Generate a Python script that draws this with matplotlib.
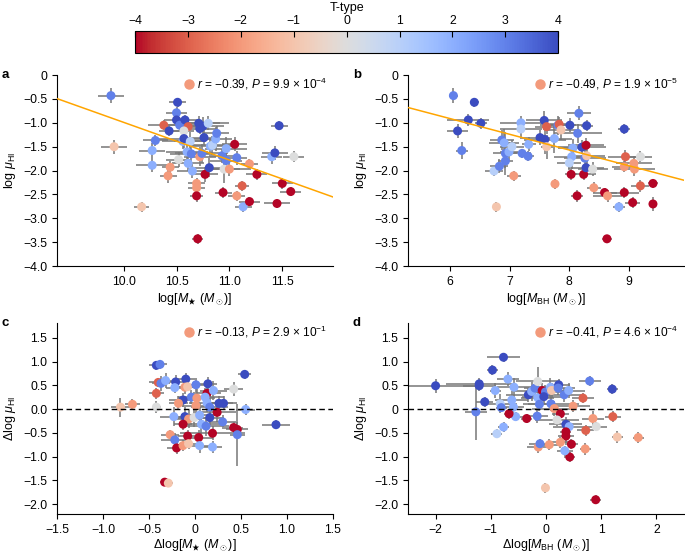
import numpy as np
import matplotlib
matplotlib.use("Agg")
import matplotlib.pyplot as plt
from matplotlib.colors import Normalize

plt.rcParams['font.family'] = ['Liberation Sans', 'DejaVu Sans']
plt.rcParams['mathtext.fontset'] = 'custom'
plt.rcParams['mathtext.rm'] = 'Liberation Sans'
plt.rcParams['mathtext.it'] = 'Liberation Sans:italic'
plt.rcParams['axes.unicode_minus'] = True

# ---- panel a: log M* vs log mu_HI
a_x = [9.88, 9.91, 10.17, 10.27, 10.27, 10.30, 10.38, 10.43, 10.44, 10.42,
       10.51, 10.50, 10.50, 10.53, 10.58, 10.61, 10.57, 10.56, 10.57, 10.63,
       10.60, 10.64, 10.52, 10.61, 10.65, 10.72, 10.69, 10.69, 10.69, 10.70,
       10.71, 10.72, 10.75, 10.80, 10.76, 10.74, 10.77, 10.81, 10.82, 10.84,
       10.87, 10.88, 10.93, 10.94, 10.95, 10.97, 10.97, 11.00, 11.05, 11.07,
       11.07, 11.12, 11.13, 11.19, 11.19, 11.26, 11.40, 11.43, 11.47, 11.45,
       11.50, 11.58, 11.61]
a_y = [-0.43, -1.50, -2.76, -1.89, -1.58, -1.37, -1.05, -1.17, -1.93, -2.11,
       -0.57, -0.79, -0.94, -1.05, -0.94, -1.08, -1.17, -1.39, -1.33, -1.39,
       -1.61, -1.65, -1.77, -1.85, -2.01, -1.71, -2.27, -2.36, -2.53, -3.43,
       -1.01, -1.12, -1.07, -1.01, -1.31, -1.64, -2.08, -1.94, -1.49, -1.47,
       -1.34, -1.22, -1.69, -2.46, -1.97, -1.54, -1.79, -1.97, -1.45, -1.73,
       -2.53, -2.32, -2.76, -1.86, -2.65, -2.08, -1.71, -1.63, -1.06, -2.69,
       -2.27, -2.44, -1.71]
a_xerr = [0.12, 0.12, 0.07, 0.15, 0.12, 0.12, 0.15, 0.10, 0.08, 0.08,
          0.08, 0.10, 0.12, 0.15, 0.12, 0.10, 0.10, 0.20, 0.25, 0.15,
          0.20, 0.20, 0.12, 0.15, 0.15, 0.15, 0.08, 0.08, 0.06, 0.05,
          0.20, 0.15, 0.20, 0.20, 0.15, 0.25, 0.12, 0.15, 0.20, 0.20,
          0.15, 0.12, 0.12, 0.08, 0.15, 0.20, 0.15, 0.20, 0.12, 0.10,
          0.08, 0.07, 0.08, 0.08, 0.10, 0.10, 0.10, 0.12, 0.08, 0.12,
          0.10, 0.10, 0.10]
a_yerr = [0.15, 0.15, 0.10, 0.15, 0.15, 0.12, 0.10, 0.10, 0.12, 0.15,
          0.10, 0.12, 0.10, 0.15, 0.10, 0.12, 0.15, 0.15, 0.20, 0.20,
          0.15, 0.20, 0.15, 0.15, 0.15, 0.20, 0.12, 0.12, 0.12, 0.10,
          0.15, 0.12, 0.20, 0.15, 0.15, 0.20, 0.15, 0.20, 0.15, 0.20,
          0.25, 0.15, 0.15, 0.12, 0.30, 0.25, 0.20, 0.15, 0.15, 0.15,
          0.10, 0.10, 0.10, 0.10, 0.10, 0.12, 0.15, 0.15, 0.10, 0.10,
          0.12, 0.10, 0.12]
a_t = [3, -1, -1, 2, 2, 3, -3, 4, -2, -2,
       4, 3, 4, 3, 4, -3, 0, 2, 4, 1,
       2, 3, 0, 2, 2, -2, -2, -2, -4, -4,
       4, 4, 4, 1, 4, 3, -4, 4, 2, 1,
       2, 3, 3, -4, 0, 2, 3, -2, -4, 3,
       -2, -3, 2, -2, -4, -4, 2, 4, 4, -4,
       -4, -4, 0]

# ---- panel b: log M_BH vs log mu_HI
b_x = [6.06, 6.41, 6.31, 6.13, 6.52, 6.20, 6.74, 6.78, 6.83, 6.87,
       6.91, 6.93, 6.93, 6.99, 7.04, 7.07, 7.19, 7.19, 7.21, 7.32,
       7.31, 7.51, 7.58, 7.59, 7.62, 7.62, 7.76, 7.75, 7.81, 7.83,
       7.86, 8.01, 8.06, 8.04, 8.00, 8.03, 8.16, 8.14, 8.13, 8.21,
       8.24, 8.26, 8.28, 8.28, 8.29, 8.29, 8.39, 8.41, 8.59, 8.64,
       8.63, 8.83, 8.92, 8.92, 8.94, 8.92, 9.06, 9.08, 9.09, 9.19,
       9.19, 9.40, 9.40]
b_y = [-0.43, -0.57, -0.94, -1.17, -1.01, -1.58, -2.01, -2.76, -1.91, -1.36,
       -1.42, -1.64, -1.80, -1.61, -1.50, -2.11, -1.00, -1.13, -1.64, -1.45,
       -1.70, -1.31, -0.95, -1.35, -1.08, -1.50, -2.28, -1.33, -1.05, -1.03,
       -1.15, -1.05, -1.53, -1.71, -1.84, -2.08, -0.80, -1.22, -2.53, -1.51,
       -2.08, -1.74, -1.47, -1.94, -1.06, -1.69, -1.97, -2.36, -2.46, -2.53,
       -3.43, -2.76, -1.13, -1.92, -1.71, -2.46, -2.67, -1.85, -1.97, -1.71,
       -2.32, -2.27, -2.70]
b_xerr = [0.08, 0.08, 0.35, 0.18, 0.10, 0.10, 0.15, 0.05, 0.15, 0.20,
          0.25, 0.20, 0.12, 0.15, 0.20, 0.12, 0.35, 0.35, 0.15, 0.12,
          0.10, 0.30, 0.30, 0.35, 0.20, 0.10, 0.06, 0.30, 0.30, 0.15,
          0.25, 0.35, 0.25, 0.30, 0.20, 0.10, 0.20, 0.40, 0.10, 0.40,
          0.20, 0.35, 0.30, 0.30, 0.10, 0.30, 0.25, 0.12, 0.20, 0.25,
          0.08, 0.10, 0.10, 0.20, 0.30, 0.25, 0.12, 0.30, 0.35, 0.20,
          0.15, 0.08, 0.06]
b_yerr = [0.15, 0.10, 0.12, 0.15, 0.12, 0.18, 0.10, 0.10, 0.15, 0.20,
          0.30, 0.45, 0.15, 0.20, 0.15, 0.10, 0.15, 0.20, 0.10, 0.15,
          0.10, 0.15, 0.20, 0.30, 0.15, 0.25, 0.10, 0.30, 0.20, 0.15,
          0.20, 0.15, 0.20, 0.25, 0.15, 0.12, 0.15, 0.20, 0.12, 0.15,
          0.12, 0.20, 0.15, 0.15, 0.12, 0.20, 0.15, 0.12, 0.10, 0.12,
          0.08, 0.10, 0.10, 0.12, 0.15, 0.12, 0.12, 0.15, 0.15, 0.12,
          0.12, 0.10, 0.15]
b_t = [3, 4, 4, 4, 4, 3, 1, -1, 3, 3,
       2, 3, 3, 2, 1, -2, 2, 1, 3, 2,
       3, 4, 4, 4, -3, -1, -2, 2, 3, -3,
       -1, 4, 2, 2, 1, -4, 3, 3, -4, 4,
       -4, 3, -4, 4, 4, -1, 0, -2, -4, -2,
       -4, 2, 4, -2, -3, -4, -4, -2, -2, 0,
       -3, -4, -4]

# ---- panel c: residual log M* vs residual log mu_HI
c_x = [-0.42, -0.38, -0.40, -0.37, -0.42, -0.42, -0.81, -0.68, -0.32, -0.21,
       -0.22, -0.10, -0.11, -0.08, 0.01, 0.14, 0.13, 0.20, 0.42, 0.54,
       -0.04, 0.02, -0.13, -0.18, 0.01, 0.11, 0.13, 0.16, 0.26, 0.31,
       0.55, -0.23, -0.11, -0.07, -0.01, 0.05, 0.16, 0.24, -0.13, 0.07,
       0.12, 0.30, 0.42, 0.46, 0.46, 0.88, -0.27, -0.08, 0.04, 0.19,
       -0.22, -0.20, -0.13, -0.07, 0.05, 0.19, -0.33, -0.29]
c_y = [0.92, 0.94, 0.56, 0.54, 0.33, 0.04, 0.04, 0.10, 0.60, 0.57,
       0.45, 0.63, 0.46, 0.47, 0.51, 0.53, 0.33, 0.39, 0.42, 0.73,
       0.25, 0.23, 0.19, 0.12, 0.07, 0.25, 0.13, 0.04, 0.12, 0.12,
       -0.01, -0.16, -0.16, -0.21, -0.18, -0.13, -0.18, -0.07, -0.32, -0.32,
       -0.36, -0.27, -0.39, -0.43, -0.54, -0.33, -0.54, -0.57, -0.60, -0.51,
       -0.65, -0.82, -0.77, -0.73, -0.77, -0.80, -1.54, -1.56]
c_xerr = [0.08, 0.08, 0.10, 0.10, 0.08, 0.05, 0.10, 0.08, 0.10, 0.10,
          0.10, 0.10, 0.10, 0.10, 0.12, 0.10, 0.15, 0.15, 0.10, 0.07,
          0.15, 0.20, 0.15, 0.10, 0.15, 0.20, 0.20, 0.20, 0.15, 0.15,
          0.10, 0.15, 0.15, 0.15, 0.20, 0.20, 0.15, 0.20, 0.10, 0.20,
          0.25, 0.15, 0.10, 0.12, 0.08, 0.15, 0.10, 0.10, 0.15, 0.35,
          0.15, 0.10, 0.10, 0.10, 0.15, 0.10, 0.05, 0.05]
c_yerr = [0.10, 0.10, 0.10, 0.15, 0.12, 0.12, 0.20, 0.12, 0.15, 0.15,
          0.12, 0.12, 0.15, 0.10, 0.15, 0.15, 0.15, 0.20, 0.15, 0.10,
          0.15, 0.20, 0.15, 0.15, 0.20, 0.20, 0.20, 0.25, 0.15, 0.15,
          0.12, 0.20, 0.20, 0.20, 0.20, 0.25, 0.15, 0.20, 0.12, 0.20,
          0.20, 0.15, 0.12, 0.15, 0.65, 0.10, 0.10, 0.12, 0.15, 0.15,
          0.15, 0.12, 0.12, 0.12, 0.15, 0.12, 0.08, 0.08]
c_t = [4, 3, -3, 3, -3, 0, -1, -2, 2, 4,
       2, 4, -2, -1, 3, 4, -4, 2, 0, 4,
       3, -2, 4, -2, -2, 2, 2, 3, 4, 4,
       2, 2, 4, -2, 0, 2, 4, -4, -4, 2,
       3, 3, -4, -4, 3, 4, -2, -4, -4, -4,
       3, -4, -2, -1, 2, 2, -4, -1]

# ---- panel d: residual log M_BH vs residual log mu_HI
d_x = [-2.00, -1.21, -1.21, -0.97, -0.77, -1.11, -1.27, -0.92, -0.83, -0.81,
       -0.69, -0.58, -0.62, -0.59, -0.55, -0.67, -0.35, -0.77, -0.89, -0.32,
       -0.26, -0.20, -0.15, -0.15, -0.12, -0.16, -0.07, -0.01, -0.04, 0.08,
       0.10, 0.23, 0.22, 0.33, 0.41, 0.09, 0.15, 0.26, 0.20, 0.36,
       0.42, 0.49, 0.67, 0.79, 1.20, 0.85, 1.21, 0.91, 0.72, 1.29,
       1.67, 0.36, 0.36, 0.46, 0.43, 0.26, 0.06, -0.14, -0.11, 0.34,
       0.71, -0.01, 0.90]
d_y = [0.49, 0.53, 0.49, 0.82, 1.09, 0.15, -0.06, 0.39, 0.11, 0.03,
       0.63, 0.46, 0.19, 0.04, -0.16, -0.10, -0.20, -0.38, -0.52, 0.30,
       0.37, 0.44, 0.58, 0.24, 0.10, -0.15, 0.39, 0.36, 0.26, 0.46,
       0.39, 0.51, 0.44, 0.30, 0.39, 0.11, 0.01, -0.10, -0.23, -0.32,
       -0.37, 0.06, 0.23, 0.59, 0.42, -0.20, -0.16, -0.37, -0.45, -0.59,
       -0.60, -0.48, -0.57, -0.74, -1.01, -0.70, -0.75, -0.80, -0.73, -0.88,
       -0.84, -1.66, -1.91]
d_xerr = [0.75, 0.60, 0.30, 0.10, 0.30, 0.15, 0.20, 0.10, 0.30, 0.10,
          0.20, 0.30, 0.30, 0.20, 0.15, 0.10, 0.10, 0.10, 0.10, 0.40,
          0.30, 0.20, 0.40, 0.30, 0.20, 0.20, 0.20, 0.30, 0.40, 0.20,
          0.30, 0.20, 0.30, 0.30, 0.30, 0.50, 0.40, 0.15, 0.40, 0.30,
          0.30, 0.30, 0.20, 0.20, 0.10, 0.20, 0.15, 0.20, 0.15, 0.10,
          0.10, 0.10, 0.15, 0.12, 0.10, 0.20, 0.15, 0.20, 0.20, 0.15,
          0.10, 0.05, 0.10]
d_yerr = [0.15, 0.12, 0.10, 0.10, 0.10, 0.10, 0.60, 0.15, 0.20, 0.10,
          0.15, 0.20, 0.20, 0.15, 0.10, 0.10, 0.10, 0.10, 0.10, 0.15,
          0.20, 0.20, 0.30, 0.20, 0.15, 0.15, 0.15, 0.15, 0.15, 0.20,
          0.15, 0.12, 0.15, 0.15, 0.15, 0.15, 0.15, 0.10, 0.12, 0.15,
          0.12, 0.12, 0.10, 0.10, 0.10, 0.15, 0.12, 0.10, 0.12, 0.12,
          0.12, 0.12, 0.15, 0.10, 0.10, 0.12, 0.12, 0.12, 0.10, 0.10,
          0.12, 0.10, 0.10]
d_t = [4, 4, 4, 4, 4, 4, 3, 2, 1, 3,
       2, 2, 2, 2, 2, -4, -4, 2, 1, 4,
       2, 3, 0, 2, 3, 3, -4, 3, 4, 2,
       -1, 4, 3, 3, 2, 3, -2, -4, 0, 4,
       2, -2, -3, 3, 4, -2, -3, 0, -3, -1,
       -2, -4, -4, -4, -4, -2, -2, -2, 3, 2,
       -2, -1, -4]

# fit lines (slope, intercept) for a and b
fit_a = (-0.79, 6.91)
fit_b = (-0.33, 1.07)

stats = [r"$r$ = −0.39, $P$ = 9.9 × 10$^{−4}$",
         r"$r$ = −0.49, $P$ = 1.9 × 10$^{−5}$",
         r"$r$ = −0.13, $P$ = 2.9 × 10$^{−1}$",
         r"$r$ = −0.41, $P$ = 4.6 × 10$^{−4}$"]

a_xticks = [10.0, 10.5, 11.0, 11.5]
a_xlabels = ["10.0", "10.5", "11.0", "11.5"]
ab_yticks = [0, -0.5, -1.0, -1.5, -2.0, -2.5, -3.0, -3.5, -4.0]
ab_ylabels = ["0", "−0.5", "−1.0", "−1.5", "−2.0", "−2.5", "−3.0", "−3.5", "−4.0"]
b_xticks = [6, 7, 8, 9]
b_xlabels = ["6", "7", "8", "9"]
c_xticks = [-1.5, -1.0, -0.5, 0, 0.5, 1.0, 1.5]
c_xlabels = ["−1.5", "−1.0", "−0.5", "0", "0.5", "1.0", "1.5"]
cd_yticks = [1.5, 1.0, 0.5, 0, -0.5, -1.0, -1.5, -2.0]
c_ylabels = ["1.5", "1.0", "0.5", "0.0", "−0.5", "−1.0", "−1.5", "−2.0"]
d_ylabels = ["1.5", "1.0", "0.5", "0", "−0.5", "−1.0", "−1.5", "−2.0"]
d_xticks = [-2, -1, 0, 1, 2]
d_xlabels = ["−2", "−1", "0", "1", "2"]

cmap = plt.get_cmap('coolwarm_r')
norm = Normalize(vmin=-4, vmax=4)
legend_color = '#F39A7B'

fig = plt.figure(figsize=(6.85, 5.55), dpi=100)

ax_a = fig.add_axes([0.0832, 0.5207, 0.403, 0.344])
ax_b = fig.add_axes([0.5956, 0.5207, 0.403, 0.344])
ax_c = fig.add_axes([0.0832, 0.0739, 0.403, 0.344])
ax_d = fig.add_axes([0.5956, 0.0739, 0.403, 0.344])


def draw_panel(ax, x, y, xe, ye, t, label, stat):
    ax.errorbar(x, y, xerr=xe, yerr=ye, fmt='none', ecolor='#777777',
                elinewidth=1.1, capsize=0, zorder=1)
    ax.scatter(x, y, c=t, cmap=cmap, norm=norm, s=42, edgecolors='none', zorder=2)
    for s in ['top', 'right']:
        ax.spines[s].set_visible(False)
    ax.tick_params(labelsize=8.8, length=3.5, width=0.8, direction='out')
    ax.plot([0.478], [0.953], 'o', color=legend_color, ms=6.5,
            transform=ax.transAxes, clip_on=False)
    ax.text(0.506, 0.953, stat, transform=ax.transAxes, fontsize=8.6,
            va='center', ha='left', clip_on=False)
    ax.text(-0.2, 1.0, label, transform=ax.transAxes, fontsize=9.5,
            fontweight='bold', va='center', ha='left')


draw_panel(ax_a, a_x, a_y, a_xerr, a_yerr, a_t, 'a', stats[0])
draw_panel(ax_b, b_x, b_y, b_xerr, b_yerr, b_t, 'b', stats[1])
draw_panel(ax_c, c_x, c_y, c_xerr, c_yerr, c_t, 'c', stats[2])
draw_panel(ax_d, d_x, d_y, d_xerr, d_yerr, d_t, 'd', stats[3])

ax_a.axline((0, fit_a[1]), slope=fit_a[0], color='orange', lw=1.1, zorder=3)
ax_b.axline((0, fit_b[1]), slope=fit_b[0], color='orange', lw=1.1, zorder=3)
ax_c.axhline(0, color='black', ls='--', lw=1.0, dashes=(4, 2.5), zorder=3)
ax_d.axhline(0, color='black', ls='--', lw=1.0, dashes=(4, 2.5), zorder=3)

ax_a.set_xlim(9.37, 11.98)
ax_a.set_ylim(-4.0, 0)
ax_a.set_xticks(a_xticks, a_xlabels)
ax_a.set_yticks(ab_yticks, ab_ylabels)
ax_a.set_xlabel(r"log[$M_\bigstar$ ($M_\odot$)]", fontsize=9, labelpad=2)
ax_a.set_ylabel(r"log $\mu_{\rm HI}$", fontsize=9)

ax_b.set_xlim(5.3, 9.92)
ax_b.set_ylim(-4.0, 0)
ax_b.set_xticks(b_xticks, b_xlabels)
ax_b.set_yticks(ab_yticks, ab_ylabels)
ax_b.set_xlabel(r"log[$M_{\rm BH}$ ($M_\odot$)]", fontsize=9, labelpad=2)
ax_b.set_ylabel(r"log $\mu_{\rm HI}$", fontsize=9)

ax_c.set_xlim(-1.5, 1.5)
ax_c.set_ylim(-2.21, 1.81)
ax_c.set_xticks(c_xticks, c_xlabels)
ax_c.set_yticks(cd_yticks, c_ylabels)
ax_c.set_xlabel(r"Δlog[$M_\bigstar$ ($M_\odot$)]", fontsize=9, labelpad=1)
ax_c.set_ylabel(r"Δlog $\mu_{\rm HI}$", fontsize=9)

ax_d.set_xlim(-2.5, 2.5)
ax_d.set_ylim(-2.21, 1.81)
ax_d.set_xticks(d_xticks, d_xlabels)
ax_d.set_yticks(cd_yticks, d_ylabels)
ax_d.set_xlabel(r"Δlog[$M_{\rm BH}$ ($M_\odot$)]", fontsize=9, labelpad=1)
ax_d.set_ylabel(r"Δlog $\mu_{\rm HI}$", fontsize=9)

# colourbar
cax = fig.add_axes([0.197, 0.9045, 0.618, 0.0396])
sm = plt.cm.ScalarMappable(norm=norm, cmap=cmap)
cb = fig.colorbar(sm, cax=cax, orientation='horizontal')
cb.set_ticks([-4, -3, -2, -1, 0, 1, 2, 3, 4])
cb.ax.xaxis.set_ticks_position('top')
cb.ax.xaxis.set_label_position('top')
cb.ax.tick_params(labelsize=8.8, direction='in', length=4, width=0.8, pad=3)
cb.set_label('T-type', fontsize=9, labelpad=3)
cb.outline.set_linewidth(0.8)

fig.savefig('out.png', dpi=100)
